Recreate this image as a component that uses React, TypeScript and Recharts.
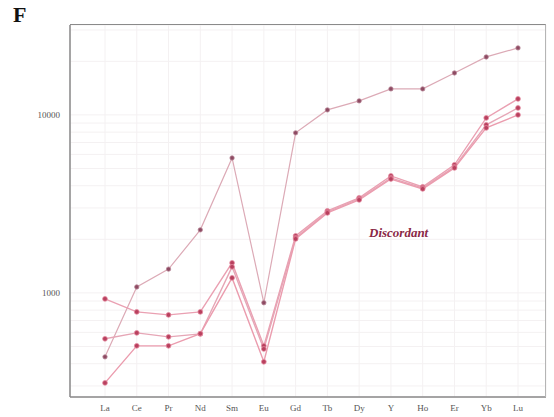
import { LineChart, Line, XAxis, YAxis, CartesianGrid } from "recharts";

const elements = ["La", "Ce", "Pr", "Nd", "Sm", "Eu", "Gd", "Tb", "Dy", "Y", "Ho", "Er", "Yb", "Lu"];

const sampleTop = [437, 1080, 1360, 2260, 5730, 880, 7930, 10670, 11990, 14000, 14000, 17210, 21170, 23790];
const sampleA = [925, 782, 752, 782, 1474, 504, 2090, 2890, 3420, 4540, 3940, 5240, 9620, 12300];
const sampleB = [552, 596, 566, 588, 1400, 484, 2037, 2851, 3373, 4426, 3890, 5100, 8790, 10940];
const sampleC = [312, 504, 504, 590, 1214, 410, 2010, 2813, 3330, 4365, 3840, 5035, 8450, 10000];

const yTicks = [
  300, 400, 500, 600, 700, 800, 900, 1000, 2000, 3000, 4000, 5000, 6000, 7000, 8000, 9000, 10000, 20000, 30000,
];
const labelledTicks = [1000, 10000];

const data = elements.map((el, i) => ({
  el,
  top: sampleTop[i],
  a: sampleA[i],
  b: sampleB[i],
  c: sampleC[i],
}));

const serif = "'Liberation Serif', 'DejaVu Serif', serif";

export default function App() {
  const lower = [
    { key: "a", stroke: "#eaa0b2" },
    { key: "b", stroke: "#e6a6b6" },
    { key: "c", stroke: "#eb9cae" },
  ];
  return (
    <div style={{ position: "absolute", left: 0, top: 0, width: 554, height: 417, background: "#fff" }}>
      <div
        style={{
          position: "absolute",
          left: 13,
          top: 2,
          fontFamily: serif,
          fontWeight: "bold",
          fontSize: 22,
          color: "#111",
        }}
      >
        F
      </div>
      <LineChart width={554} height={417} data={data} margin={{ top: 25, right: 8, bottom: 4, left: 10 }}>
        <CartesianGrid stroke="#f4f1f2" strokeWidth={1} />
        <XAxis
          dataKey="el"
          padding={{ left: 35, right: 28 }}
          height={16}
          tickLine={false}
          axisLine={{ stroke: "#888", strokeWidth: 1.5 }}
          tick={{ fontFamily: serif, fontSize: 9, fill: "#555" }}
          tickMargin={2}
          interval={0}
        />
        <YAxis
          scale="log"
          domain={[260, 32000]}
          allowDataOverflow
          ticks={yTicks}
          interval={0}
          width={60}
          tickLine={false}
          axisLine={{ stroke: "#888", strokeWidth: 1.5 }}
          tickFormatter={(v: number) => (labelledTicks.includes(v) ? String(v) : "")}
          tick={{ fontFamily: serif, fontSize: 9, fill: "#555" }}
          tickMargin={4}
        />
        <Line
          dataKey="top"
          stroke="#dcaab6"
          strokeWidth={1.2}
          dot={{ r: 2.2, fill: "#8e4a62", stroke: "#b98a9a", strokeWidth: 0.8 }}
          isAnimationActive={false}
        />
        {lower.map((s) => (
          <Line
            key={s.key}
            dataKey={s.key}
            stroke={s.stroke}
            strokeWidth={1.4}
            dot={{ r: 2.4, fill: "#b8405e", stroke: "#e48aa0", strokeWidth: 0.8 }}
            isAnimationActive={false}
          />
        ))}
      </LineChart>
      <div
        style={{
          position: "absolute",
          left: 70,
          top: 24,
          width: 475,
          height: 372,
          borderTop: "1.5px solid #8a8a8a",
          borderRight: "1px solid #b5b5b5",
          pointerEvents: "none",
        }}
      />
      <div
        style={{
          position: "absolute",
          left: 369,
          top: 225,
          fontFamily: serif,
          fontStyle: "italic",
          fontWeight: "bold",
          fontSize: 13,
          color: "#8a2846",
        }}
      >
        Discordant
      </div>
    </div>
  );
}
